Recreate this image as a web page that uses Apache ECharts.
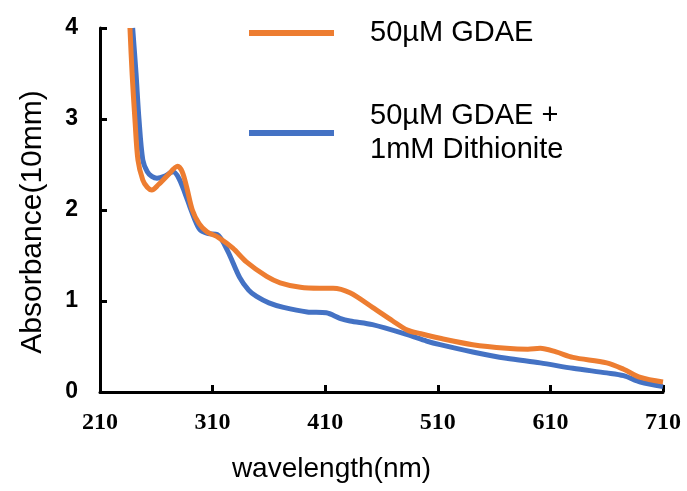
<!DOCTYPE html>
<html>
<head>
<meta charset="utf-8">
<script src="https://cdn.jsdelivr.net/npm/echarts@6/dist/echarts.min.js"></script>
<style>
  html, body { margin: 0; padding: 0; background: #fff; }
  #chart { width: 687px; height: 491px; }
</style>
</head>
<body>
<div id="chart"></div>
<script>
// wavelength (nm) / absorbance pairs
const gdaeWl = [236.6, 238.5, 241, 243.7, 248, 252, 256, 262, 270, 279, 283, 287, 292, 298, 305, 315, 328, 340, 358, 370, 388, 405, 417, 432, 452, 470, 483, 495, 512, 541, 571, 590, 601, 615, 630, 660, 675, 690, 710]
const gdaeAbs = [4.0, 3.5, 3.0, 2.55, 2.33, 2.25, 2.22, 2.28, 2.38, 2.48, 2.42, 2.25, 2.0, 1.85, 1.76, 1.7, 1.58, 1.43, 1.27, 1.2, 1.15, 1.14, 1.14, 1.09, 0.93, 0.78, 0.68, 0.64, 0.59, 0.52, 0.48, 0.47, 0.48, 0.44, 0.38, 0.32, 0.25, 0.16, 0.11]

const dithWl = [239, 242, 244.6, 248, 252, 256, 260.6, 267, 275, 280, 285, 290, 295, 299, 306, 314, 323, 334, 342, 349, 360, 373, 394, 411, 423, 432, 452, 483, 500, 512, 541, 571, 601, 630, 660, 675, 690, 710]
const dithAbs = [4.0, 3.5, 3.0, 2.55, 2.42, 2.37, 2.35, 2.37, 2.42, 2.35, 2.2, 2.03, 1.87, 1.78, 1.74, 1.73, 1.56, 1.26, 1.12, 1.05, 0.98, 0.93, 0.88, 0.87, 0.81, 0.78, 0.74, 0.63, 0.56, 0.52, 0.44, 0.37, 0.32, 0.26, 0.21, 0.18, 0.11, 0.06]

const xTicks = [210, 310, 410, 510, 610, 710]
const seriesNames = ['50µM GDAE', '50µM GDAE +\n1mM Dithionite']

const chart = echarts.init(document.getElementById('chart'))

const sans = 'Liberation Sans'

const option = {
  animation: false,
  grid: { left: 100, right: 24, top: 28, bottom: 99 },
  legend: [
    {
      data: [seriesNames[0]],
      left: 244,
      top: 11,
      icon: 'rect',
      itemWidth: 85,
      itemHeight: 6,
      textStyle: { fontFamily: sans, fontSize: 29, color: '#000', lineHeight: 34, padding: [0, 0, 0, 31] }
    },
    {
      data: [seriesNames[1]],
      left: 244,
      top: 77,
      icon: 'rect',
      itemWidth: 85,
      itemHeight: 6,
      textStyle: { fontFamily: sans, fontSize: 29, color: '#000', lineHeight: 34, padding: [34, 0, 0, 31] }
    }
  ],
  xAxis: {
    type: 'value',
    min: 210,
    max: 710,
    name: 'wavelength(nm)',
    nameLocation: 'middle',
    nameGap: 63,
    nameTextStyle: { fontFamily: sans, fontSize: 28, color: '#000', padding: [0, 100, 0, 0] },
    axisLine: { lineStyle: { color: '#000', width: 3 } },
    axisTick: { show: true, inside: true, length: 7, lineStyle: { width: 3, color: '#000' }, customValues: xTicks },
    axisLabel: {
      customValues: xTicks,
      margin: 19,
      fontFamily: 'Liberation Serif',
      fontWeight: 'bold',
      fontSize: 24,
      color: '#000'
    },
    splitLine: { show: false }
  },
  yAxis: {
    type: 'value',
    min: 0,
    max: 4,
    interval: 1,
    name: 'Absorbance(10mm)',
    nameLocation: 'middle',
    nameGap: 52,
    nameTextStyle: { fontFamily: sans, fontSize: 30, color: '#000', padding: [0, 24, 0, 0] },
    axisLine: { show: true, lineStyle: { color: '#000', width: 3 } },
    axisTick: { show: true, inside: true, length: 7, lineStyle: { width: 3, color: '#000' } },
    axisLabel: { margin: 22, fontFamily: sans, fontWeight: 'bold', fontSize: 23, color: '#000' },
    splitLine: { show: false }
  },
  series: [
    {
      name: seriesNames[1],
      type: 'line',
      data: dithWl.map((w, i) => [w, dithAbs[i]]),
      showSymbol: false,
      smooth: 0.3,
      lineStyle: { width: 5, color: '#4472C4' },
      itemStyle: { color: '#4472C4' }
    },
    {
      name: seriesNames[0],
      type: 'line',
      data: gdaeWl.map((w, i) => [w, gdaeAbs[i]]),
      showSymbol: false,
      smooth: 0.3,
      lineStyle: { width: 5, color: '#ED7D31' },
      itemStyle: { color: '#ED7D31' }
    }
  ]
}

chart.setOption(option)
</script>
</body>
</html>
